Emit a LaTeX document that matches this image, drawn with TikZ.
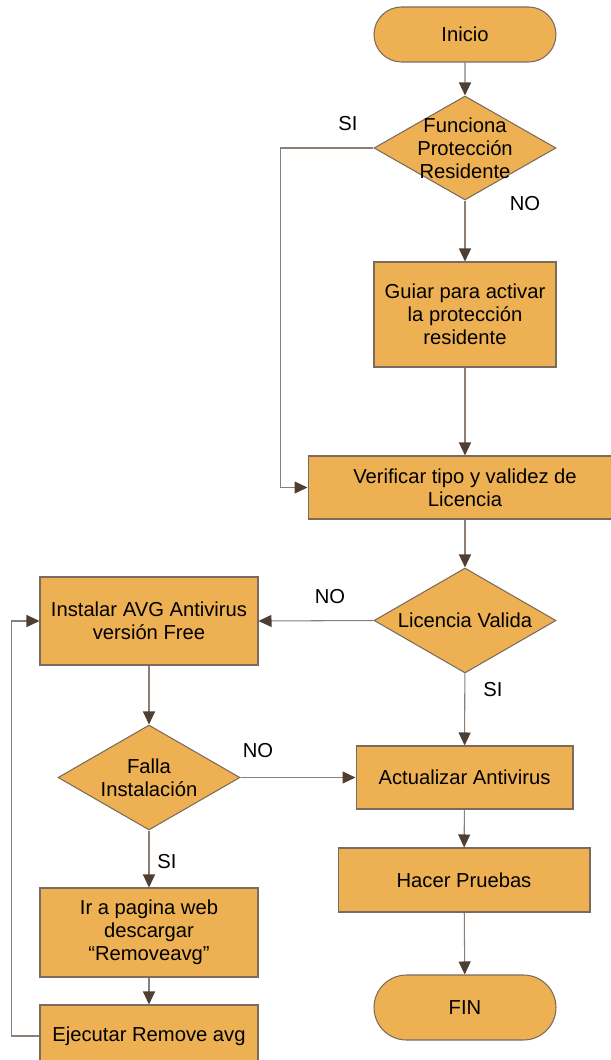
\documentclass[tikz,border=0pt]{standalone}
\usepackage{fontspec}
\setmainfont{Liberation Sans}
\usetikzlibrary{shapes.geometric,shapes.misc,arrows.meta}

\definecolor{naranja}{HTML}{EDB052}
\definecolor{borde}{HTML}{7A6B5E}
\definecolor{linea}{HTML}{8B7E74}
\definecolor{punta}{HTML}{4F3F33}

\tikzset{
  caja/.style={rectangle, draw=borde, fill=naranja, line width=0.6pt,
    align=center, inner sep=0pt,
    font=\fontsize{11.5}{13}\selectfont},
  terminal/.style={caja, rounded rectangle},
  decision/.style={caja, diamond},
  flecha/.style={draw=linea, line width=0.6pt,
    -{Triangle[length=2.6mm,width=2.4mm,color=punta]}},
  etiq/.style={font=\fontsize{11.5}{13}\selectfont, align=center}
}

\begin{document}
\begin{tikzpicture}[x=0.02cm, y=0.02cm]

    \useasboundingbox (0,0) rectangle (610,-1060);

    %-------------------------
    % Columna derecha
    %-------------------------
    \node[terminal, minimum width=3.64cm, minimum height=1.1cm] (inicio) at (465,-34.5) {Inicio};

    \node[decision, minimum width=3.64cm, minimum height=2.08cm,
      label={[etiq]center:Funciona\\Protección\\Residente}] (func) at (465,-148) {};

    \node[caja, minimum width=3.64cm, minimum height=2.1cm] (guiar) at (465,-314.5)
      {Guiar para activar\\la protección\\residente};

    \node[caja, minimum width=6.28cm, minimum height=1.26cm] (verif) at (465,-487.5)
      {Verificar tipo y validez de\\Licencia};

    \node[decision, minimum width=3.64cm, minimum height=2.1cm,
      label={[etiq]center:Licencia Valida}] (licen) at (465,-620.5) {};

    \node[caja, minimum width=4.34cm, minimum height=1.26cm] (actual) at (464.5,-777.5) {Actualizar Antivirus};

    \node[caja, minimum width=5.04cm, minimum height=1.28cm] (pruebas) at (464,-880) {Hacer Pruebas};

    \node[terminal, minimum width=3.64cm, minimum height=1.3cm] (fin) at (465,-1007.5) {FIN};

    %-------------------------
    % Columna izquierda
    %-------------------------
    \node[caja, minimum width=4.36cm, minimum height=1.76cm] (instalar) at (149,-621)
      {Instalar AVG Antivirus\\versión Free};

    \node[decision, minimum width=3.64cm, minimum height=2.1cm,
      label={[etiq]center:Falla\\Instalación}] (falla) at (149,-777.5) {};

    \node[caja, minimum width=4.36cm, minimum height=1.78cm] (pagina) at (149,-932.5)
      {Ir a pagina web\\descargar\\“Removeavg”};

    \node[caja, minimum width=4.36cm, minimum height=1.24cm] (ejecutar) at (149,-1036)
      {Ejecutar Remove avg};

    %-------------------------
    % Conectores
    %-------------------------
    \draw[flecha] (inicio) -- (func);
    \draw[flecha] (func.west) -- ++(-93,0) |- (verif.west);
    \draw[flecha] (func) -- (guiar);
    \draw[flecha] (guiar) -- (verif);
    \draw[flecha] (verif) -- (licen);
    \draw[flecha] (licen.west) -- (instalar.east);
    \draw[flecha] (licen) -- (actual);
    \draw[flecha] (actual) -- (pruebas);
    \draw[flecha] (pruebas) -- (fin);

    \draw[flecha] (instalar) -- (falla);
    \draw[flecha] (falla.east) -- (actual.west);
    \draw[flecha] (falla) -- (pagina);
    \draw[flecha] (pagina) -- (ejecutar);
    \draw[flecha] (ejecutar.west) -- ++(-28,0) |- (instalar.west);

    % Etiquetas SI / NO
    \node[etiq] (si1) at (348,-124) {SI};
    \node[etiq] (no1) at (525,-204) {NO};
    \node[etiq] (no2) at (330,-597) {NO};
    \node[etiq] (si2) at (493,-690) {SI};
    \node[etiq] (no3) at (258,-751) {NO};
    \node[etiq] (si3) at (167,-862) {SI};

\end{tikzpicture}
\end{document}
